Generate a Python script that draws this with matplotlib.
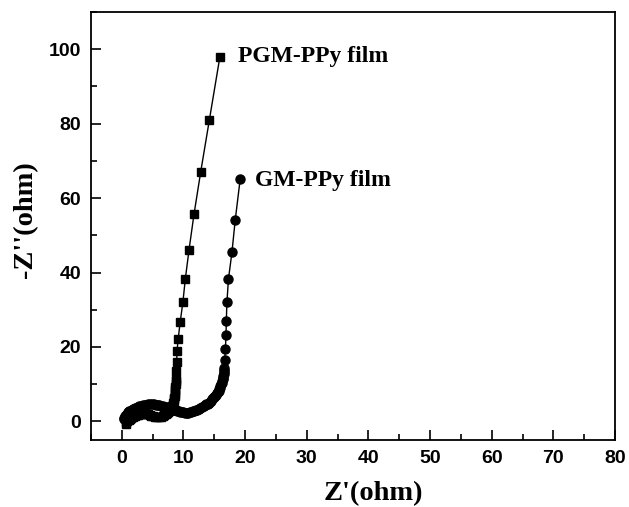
import matplotlib
matplotlib.use('Agg')
import matplotlib.pyplot as plt
from matplotlib.ticker import MultipleLocator

# PGM-PPy film (squares)
pgm_x = [0.6, 0.75, 0.9, 1.1, 1.3, 1.55, 1.8, 2.1, 2.4, 2.7, 3.0, 3.3, 3.6, 3.9,
         4.2, 4.5, 4.8, 5.1, 5.4, 5.7, 6.0, 6.3, 6.6, 6.85, 7.1, 7.3, 7.5, 7.65,
         7.8, 7.95, 8.05, 8.15, 8.25, 8.33, 8.4, 8.45, 8.5, 8.55, 8.58, 8.62,
         8.65, 8.7, 8.72, 8.76, 8.8, 8.85, 8.9, 8.95, 9.14, 9.46, 9.9, 10.3,
         10.9, 11.7, 12.8, 14.2, 15.9]
pgm_y = [-0.6, -0.25, 0.1, 0.4, 0.7, 0.95, 1.2, 1.45, 1.7, 1.85, 2.0, 2.05, 2.1,
         2.0, 1.9, 1.7, 1.5, 1.35, 1.2, 1.15, 1.1, 1.2, 1.4, 1.65, 1.9, 2.15,
         2.4, 2.7, 3.0, 3.35, 3.7, 4.1, 4.5, 4.95, 5.4, 5.9, 6.4, 6.95, 7.5, 8.1,
         8.7, 9.35, 10.0, 10.75, 11.5, 13.5, 16.0, 18.9, 22.2, 26.6, 32.0, 38.3,
         46.1, 55.6, 67.1, 81.0, 97.9]

# GM-PPy film (circles)
gm_x = [0.3, 0.4, 0.5, 0.65, 0.8, 1.0, 1.2, 1.4, 1.6, 1.85, 2.1, 2.35, 2.6, 2.85,
        3.1, 3.4, 3.7, 4.0, 4.3, 4.6, 4.9, 5.2, 5.5, 5.8, 6.1, 6.4, 6.7, 7.0,
        7.3, 7.6, 7.9, 8.2, 8.5, 8.75, 9.0, 9.25, 9.5, 9.75, 10.0, 10.25, 10.5,
        10.75, 11.0, 11.25, 11.5, 11.75, 12.0, 12.25, 12.5, 12.75, 13.0, 13.25,
        13.5, 13.7, 13.9, 14.1, 14.3, 14.5, 14.7, 14.85, 15.0, 15.15, 15.3,
        15.45, 15.55, 15.7, 15.8, 15.9, 16.0, 16.1, 16.2, 16.28, 16.35, 16.4,
        16.45, 16.5, 16.55, 16.58, 16.62, 16.7, 16.8, 16.9, 16.95, 17.05, 17.3,
        17.86, 18.4, 19.2]
gm_y = [0.6, 1.0, 1.4, 1.75, 2.1, 2.4, 2.7, 2.9, 3.1, 3.3, 3.5, 3.7, 3.9, 4.05,
        4.2, 4.3, 4.4, 4.5, 4.6, 4.6, 4.6, 4.55, 4.5, 4.4, 4.3, 4.2, 4.1, 3.95,
        3.8, 3.65, 3.5, 3.35, 3.2, 3.05, 2.9, 2.75, 2.6, 2.5, 2.4, 2.35, 2.3,
        2.35, 2.4, 2.55, 2.7, 2.85, 3.0, 3.2, 3.4, 3.6, 3.8, 4.05, 4.3, 4.55,
        4.8, 5.05, 5.3, 5.6, 5.9, 6.2, 6.5, 6.85, 7.2, 7.55, 7.9, 8.3, 8.7, 9.1,
        9.5, 9.95, 10.4, 10.85, 11.3, 11.75, 12.2, 12.7, 13.2, 13.75, 14.3,
        16.6, 19.5, 23.1, 27.1, 32.1, 38.3, 45.4, 54.2, 65.1]

serif = ['Liberation Serif', 'DejaVu Serif']
sans = ['Liberation Sans', 'DejaVu Sans']

fig = plt.figure(figsize=(6.29, 5.07), dpi=100)
ax = fig.add_axes([0.1447, 0.1321, 0.833, 0.8442])

ax.plot(pgm_x, pgm_y, color='black', lw=1.0, marker='s', ms=5.5, mfc='black', mec='black')
ax.plot(gm_x, gm_y, color='black', lw=1.0, marker='o', ms=6.5, mfc='black', mec='black')

ax.text(18.8, 98, 'PGM-PPy film', family=serif, weight='bold', fontsize=17, va='center')
ax.text(21.6, 64.6, 'GM-PPy film', family=serif, weight='bold', fontsize=17, va='center')

ax.set_xlim(-5, 80)
ax.set_ylim(-5, 110)
ax.xaxis.set_major_locator(MultipleLocator(10))
ax.xaxis.set_minor_locator(MultipleLocator(5))
ax.yaxis.set_major_locator(MultipleLocator(20))
ax.yaxis.set_minor_locator(MultipleLocator(10))
ax.tick_params(which='both', direction='in', width=1.2)
ax.tick_params(which='major', length=7, pad=7)
ax.tick_params(which='minor', length=4)
for lab in ax.get_xticklabels() + ax.get_yticklabels():
    lab.set_family(sans)
    lab.set_fontweight('bold')
    lab.set_fontsize(14)
for sp in ax.spines.values():
    sp.set_linewidth(1.3)

ax.set_xlabel("Z'(ohm)", family=serif, weight='bold', fontsize=20.5)
ax.set_ylabel("-Z''(ohm)", family=serif, weight='bold', fontsize=20.5)
ax.xaxis.set_label_coords(0.538, -0.095)
ax.yaxis.set_label_coords(-0.1, 0.515)

fig.savefig('out.png', dpi=100)
